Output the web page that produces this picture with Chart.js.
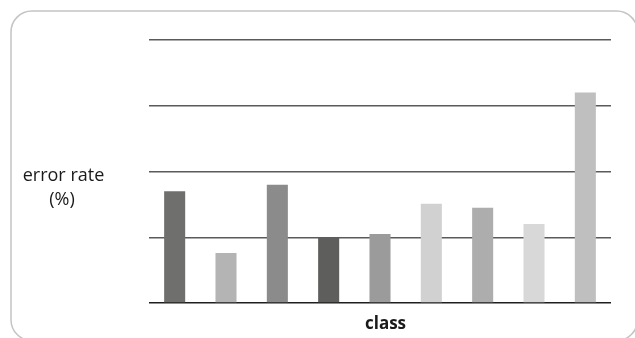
<!DOCTYPE html>
<html>
<head>
<meta charset="utf-8">
<script src="https://cdn.jsdelivr.net/npm/chart.js@4"></script>
<style>
  body { margin: 0; background: #fff; }
  canvas { display: block; }
</style>
</head>
<body>
<canvas id="chart" width="635" height="338"></canvas>
<script>
const classes = ['1', '2', '3', '4', '5', '6', '7', '8', '9'];
const errorRate = [8.5, 3.8, 9.0, 5.0, 5.25, 7.55, 7.25, 6.0, 16.0];
const barColors = ['#6f6f6d', '#b3b4b3', '#8b8b8b', '#5e5f5d', '#9a9b9a', '#d1d1d1', '#adadad', '#d7d8d7', '#bebfbe'];
const yTicks = [0, 5, 10, 15, 20];

// frame and axis titles drawn by hand (horizontal y title)
const decor = {
    id: 'decor',
    beforeDraw(chart) {
        const c = chart.ctx;
        c.save();
        c.fillStyle = '#fff';
        c.fillRect(0, 0, chart.width, chart.height);
        c.strokeStyle = '#c4c4c4';
        c.lineWidth = 1.5;
        c.beginPath();
        c.roundRect(11, 11, 626.5, 329.7, 21);
        c.stroke();
        c.restore();
    },
    afterDraw(chart) {
        const c = chart.ctx;
        c.save();
        c.fillStyle = '#1a1a1a';
        c.textAlign = 'center';
        c.textBaseline = 'alphabetic';
        c.font = '18px "Open Sans"';
        c.fillText('error rate', 63.5, 181);
        c.fillText('(%)', 62, 205);
        c.font = 'bold 17px "Open Sans"';
        c.fillText('class', 385.5, 329);
        c.restore();
    }
};

new Chart(document.getElementById('chart'), {
    type: 'bar',
    data: {
        labels: classes,
        datasets: [{
            data: errorRate,
            backgroundColor: barColors,
            borderWidth: 0,
            categoryPercentage: 1,
            barPercentage: 0.41
        }]
    },
    options: {
        responsive: false,
        animation: false,
        layout: { padding: { left: 149, right: 24, top: 40, bottom: 35 } },
        plugins: { legend: { display: false }, tooltip: { enabled: false } },
        scales: {
            x: { display: false },
            y: {
                min: yTicks[0],
                max: yTicks[yTicks.length - 1],
                ticks: { display: false, stepSize: 5 },
                border: { display: false },
                grid: {
                    drawTicks: false,
                    lineWidth: 1.5,
                    color: ctx => ctx.tick && ctx.tick.value === 0 ? '#1e1e1e' : '#5a5a5a'
                }
            }
        }
    },
    plugins: [decor]
});
</script>
</body>
</html>
